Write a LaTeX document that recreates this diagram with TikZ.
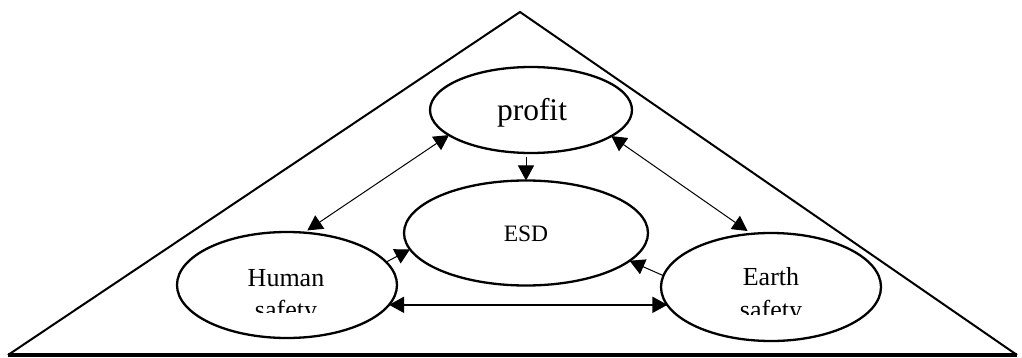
\documentclass[tikz,border=0pt]{standalone}
\usepackage{fontspec}
\setmainfont{Liberation Serif}
\usetikzlibrary{shapes.geometric,arrows.meta,calc}
\begin{document}
\begin{tikzpicture}[x=1pt,y=-1pt,
  oval/.style={ellipse,draw,line width=2.3pt,inner sep=0pt,outer sep=0pt},
  conn/.style={line width=1pt,-{Triangle[length=15pt,width=16pt]}},
  biconn/.style={line width=1pt,{Triangle[length=15pt,width=16pt]}-{Triangle[length=15pt,width=16pt]}},
  lbl/.style={anchor=base,inner sep=0pt,font=\fontsize{26}{30}\selectfont}]
\useasboundingbox (0,0) rectangle (1022,358);
\coordinate (apex) at (520,12);
\coordinate (bl) at (8,355);
\coordinate (br) at (1017,355);
\draw[line width=2pt,line join=miter] (bl) -- (apex) -- (br);
\draw[line width=3.3pt] (bl) -- (br);
\node[oval,minimum width=202pt,minimum height=86pt] (profit) at (531,110) {};
\node[oval,minimum width=244pt,minimum height=105pt] (esd) at (526,233) {};
\node[oval,minimum width=220pt,minimum height=106pt] (hs) at (287,285) {};
\node[oval,minimum width=220pt,minimum height=108pt] (es) at (771,287) {};
\node[lbl,font=\fontsize{31.5}{36}\selectfont] (profitT) at (532,121) {profit};
\node[lbl,font=\fontsize{23.5}{28}\selectfont] (esdT) at (526,241) {ESD};
\node[lbl] (hsT) at (286,286) {Human};
\node[lbl] (esT) at (771,285) {Earth};
\begin{scope}
\clip (150,250) rectangle (420,312);
\node[lbl] (hsT2) at (286,318) {safety};
\end{scope}
\begin{scope}
\clip (640,250) rectangle (900,314);
\node[lbl] (esT2) at (771,318) {safety};
\end{scope}
\draw[conn,shorten <=4pt] (esd.north |- profit.south) -- (esd.north);
\draw[biconn,shorten >=4pt] (profit.197) -- (hs.72);
\draw[biconn,shorten >=5pt] (profit.342) -- (es.110);
\draw[conn] (hs.13.5) -- (esd.188.5);
\draw[conn] (es.174) -- (esd.345);
\draw[biconn,line width=1.5pt] (hs.349) -- (hs.349 -| es.190);
\end{tikzpicture}
\end{document}
